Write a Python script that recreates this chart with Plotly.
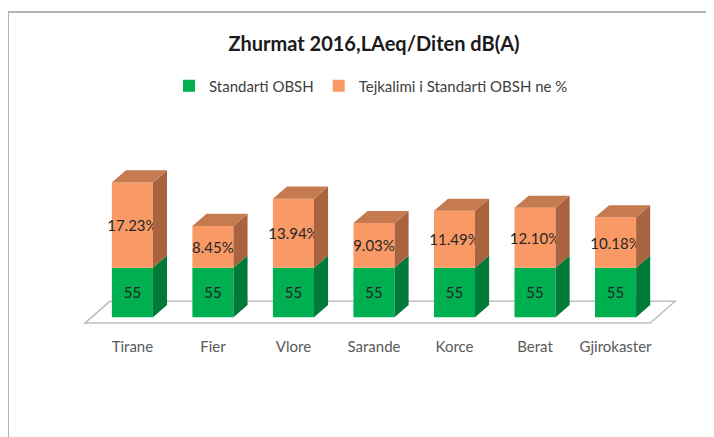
import plotly.graph_objects as go

# ---- data ----
cities = ["Tirane", "Fier", "Vlore", "Sarande", "Korce", "Berat", "Gjirokaster"]
standard = [55, 55, 55, 55, 55, 55, 55]
exceed_pct = [17.23, 8.45, 13.94, 9.03, 11.49, 12.10, 10.18]

# ---- style / geometry constants ----
AXIS_MIN = 45          # value axis minimum (floor of 3D chart)
BAR_W = 0.51           # bar width in category units
DX, DY = 0.175, 2.45   # 3D depth offsets (category units, value units)
FONT = "Lato"
GREEN, GREEN_SIDE = "#00B050", "#007A38"
ORANGE, ORANGE_TOP, ORANGE_SIDE = "#F99A66", "#C67A50", "#A9643F"
OFF = 8                # page body offset compensation

x = list(range(len(cities)))

label_font = dict(family=FONT, size=15, color="#262626")
fig = go.Figure()
fig.add_trace(go.Bar(
    x=x, y=[v - AXIS_MIN for v in standard], base=[AXIS_MIN] * len(x),
    width=BAR_W, name="Standarti OBSH", marker=dict(color=GREEN, line=dict(width=0)),
    text=[str(v) for v in standard], textposition="inside", insidetextanchor="middle",
    textangle=0, constraintext="none", textfont=label_font, hoverinfo="skip",
))
fig.add_trace(go.Bar(
    x=x, y=exceed_pct, base=standard,
    width=BAR_W, name="Tejkalimi i Standarti OBSH ne %", marker=dict(color=ORANGE, line=dict(width=0)),
    text=[f"{p:.2f}%" for p in exceed_pct], textposition="inside", insidetextanchor="middle",
    textangle=0, constraintext="none", textfont=label_font, hoverinfo="skip",
))

shapes = []
# floor plane
n = len(x)
fl_y0 = AXIS_MIN - 1.2
fl_l, fl_r = -0.59, (n - 1) + 0.43
fdx, fdy = 0.31, 4.4
shapes.append(dict(type="path", xref="x", yref="y", layer="below",
                   path=f"M{fl_l},{fl_y0} L{fl_r},{fl_y0} L{fl_r+fdx},{fl_y0+fdy} L{fl_l+fdx},{fl_y0+fdy} Z",
                   fillcolor="white", line=dict(color="#BFBFBF", width=1.5)))


def side(xc, y0, y1, color):
    xr = xc + BAR_W / 2
    return dict(type="path", xref="x", yref="y", layer="above",
                path=f"M{xr},{y0} L{xr+DX},{y0+DY} L{xr+DX},{y1+DY} L{xr},{y1} Z",
                fillcolor=color, line=dict(width=0))


for xi, s, p in zip(x, standard, exceed_pct):
    shapes.append(side(xi, AXIS_MIN, s, GREEN_SIDE))
    shapes.append(side(xi, s, s + p, ORANGE_SIDE))
    top = s + p
    xl, xr = xi - BAR_W / 2, xi + BAR_W / 2
    shapes.append(dict(type="path", xref="x", yref="y", layer="above",
                       path=f"M{xl},{top} L{xr},{top} L{xr+DX},{top+DY} L{xl+DX},{top+DY} Z",
                       fillcolor=ORANGE_TOP, line=dict(width=0)))

# layout geometry (pixels in the figure)
W, H = 714, 437
L, T = 72 - OFF, 144 - OFF
pw, ph = 612, 188
R, B = W - L - pw, H - T - ph
def px(xp): return (xp - OFF - L) / pw        # xp: target screen pixel
def py(yp): return (H - B - (yp - OFF)) / ph  # yp: target screen pixel

# outer chart frame (top and left border lines)
shapes.append(dict(type="line", xref="paper", yref="paper", x0=px(8), x1=px(730), y0=py(12), y1=py(12),
                   line=dict(color="#B4B4B4", width=2)))
shapes.append(dict(type="line", xref="paper", yref="paper", x0=px(8), x1=px(8), y0=py(12), y1=py(450),
                   line=dict(color="#B4B4B4", width=2)))

fig.update_layout(
    width=W, height=H, margin=dict(l=L, r=R, t=T, b=B),
    paper_bgcolor="white", plot_bgcolor="white",
    barmode="overlay", showlegend=True,
    title=dict(text="<b>Zhurmat 2016,LAeq/Diten dB(A)</b>", x=(374 - OFF) / W, xanchor="center",
               y=1 - (44 - OFF) / H, yanchor="middle", font=dict(family=FONT, size=20, color="#1a1a1a")),
    legend=dict(orientation="h", x=px(169), xanchor="left", y=py(86), yanchor="middle",
                font=dict(family=FONT, size=15, color="#404040"), itemwidth=30,
                bgcolor="rgba(0,0,0,0)"),
    xaxis=dict(range=[-0.75, 6.85], tickmode="array", tickvals=x, ticktext=cities,
               showgrid=False, zeroline=False, showline=False, ticks="",
               tickfont=dict(family=FONT, size=15, color="#595959"), ticklabelstandoff=4),
    yaxis=dict(range=[42, 80], visible=False, showgrid=False, zeroline=False),
    shapes=shapes,
)

fig.write_html("out.html")
